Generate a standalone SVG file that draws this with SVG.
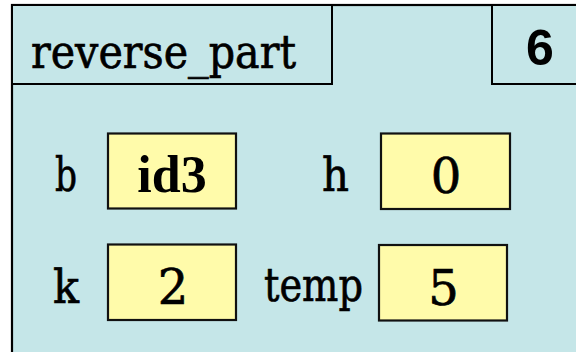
<svg xmlns="http://www.w3.org/2000/svg" width="576" height="352" viewBox="0 0 576 352">
  <style>
    .frame { fill: #c5e6e8; stroke: #000; stroke-width: 2.2; }
    .hdr { fill: #c5e6e8; stroke: #000; stroke-width: 2; }
    .box { fill: #fffbaa; stroke: #111; stroke-width: 2.2; }
    .tw { font-family: "DejaVu Serif", "Liberation Serif", serif; font-size: 47px; fill: #000; stroke: #000; stroke-width: 0.7; }
    .dig { font-family: "DejaVu Serif", "Liberation Serif", serif; font-size: 48px; fill: #000; stroke: #000; stroke-width: 0.7; text-anchor: middle; }
    .idv { font-family: "Liberation Serif", "Times New Roman", serif; font-weight: bold; font-size: 52px; fill: #000; text-anchor: middle; }
    .num { font-family: "Liberation Sans", Arial, sans-serif; font-weight: bold; font-size: 50px; fill: #000; text-anchor: middle; }
  </style>
  <rect width="576" height="352" fill="#ffffff"/>
  <g id="frame">
    <rect class="frame" x="12" y="5" width="620" height="400"/>
  </g>
  <g id="header-name">
    <rect class="hdr" x="12" y="5" width="320" height="79"/>
    <text class="tw" x="31" y="68" textLength="265" lengthAdjust="spacingAndGlyphs">reverse_part</text>
  </g>
  <g id="header-number">
    <rect class="hdr" x="492" y="5" width="120" height="79"/>
    <text class="num" x="540" y="65">6</text>
  </g>
  <g id="var-b">
    <text class="tw" x="55" y="191" textLength="22" lengthAdjust="spacingAndGlyphs">b</text>
    <rect class="box" x="108" y="133.5" width="128" height="75"/>
    <text class="idv" x="172" y="192">id3</text>
  </g>
  <g id="var-h">
    <text class="tw" x="322" y="191" textLength="27" lengthAdjust="spacingAndGlyphs">h</text>
    <rect class="box" x="381" y="133.5" width="129" height="75.5"/>
    <text class="dig" x="446" y="193">0</text>
  </g>
  <g id="var-k">
    <text class="tw" x="53" y="303" textLength="26" lengthAdjust="spacingAndGlyphs">k</text>
    <rect class="box" x="108" y="244.5" width="128" height="75.5"/>
    <text class="dig" x="173" y="304">2</text>
  </g>
  <g id="var-temp">
    <text class="tw" x="264" y="301" textLength="99" lengthAdjust="spacingAndGlyphs">temp</text>
    <rect class="box" x="379" y="245" width="128" height="75.5"/>
    <text class="dig" x="443.5" y="305">5</text>
  </g>
  <g id="connectors"/>
</svg>
